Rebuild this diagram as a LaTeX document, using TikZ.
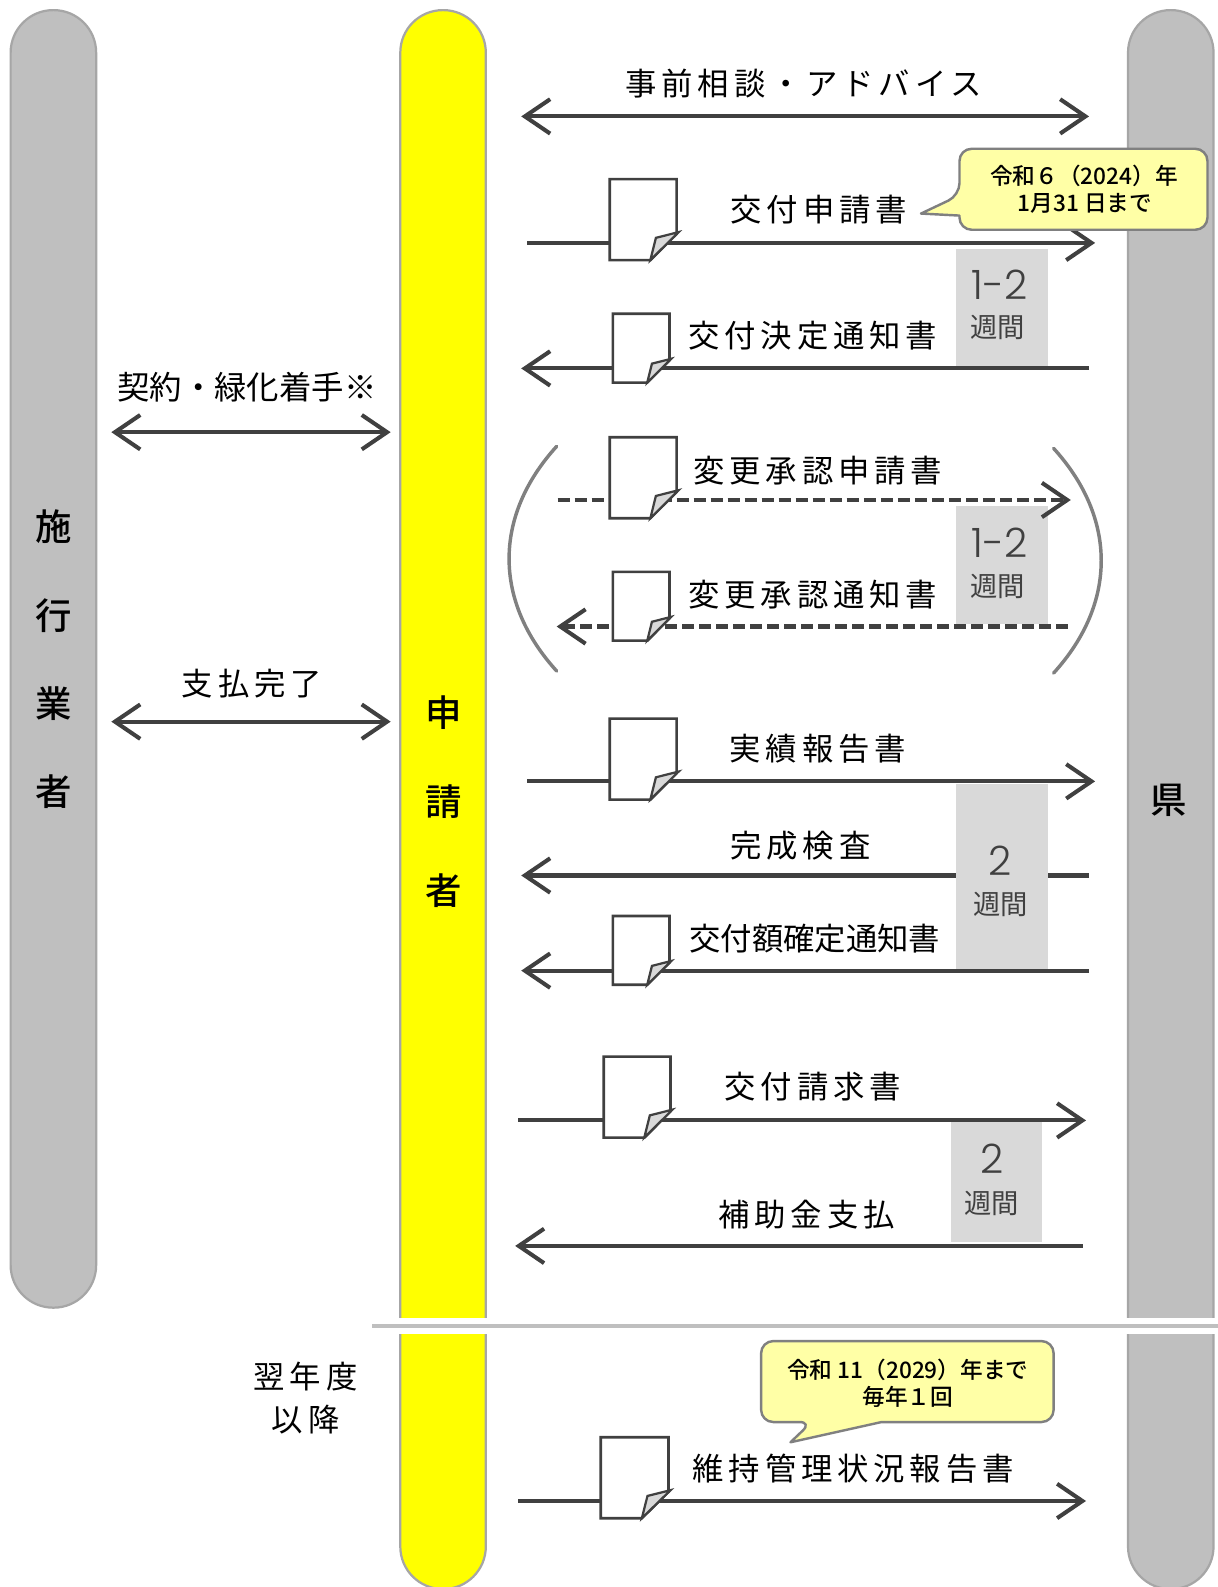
\documentclass[tikz,border=0pt]{standalone}
\usepackage{fontspec}
\usetikzlibrary{arrows.meta}
\setmainfont{Noto Sans CJK JP}
\newfontfamily\jp{Noto Sans CJK JP}
\newfontfamily\jpls{Noto Sans CJK JP}[LetterSpace=15.5]
\newfontfamily\jpbold{Noto Sans CJK JP Medium}
\newfontfamily\numf{Poppins Light}
\definecolor{pillgray}{HTML}{BFBFBF}
\definecolor{pillline}{HTML}{A6A6A6}
\definecolor{ink}{HTML}{404040}
\definecolor{boxgray}{HTML}{D9D9D9}
\definecolor{callfill}{HTML}{FFFFA6}
\definecolor{laneyellow}{HTML}{FFFF00}
\tikzset{
 pill/.style={draw=pillline,line width=1.1pt,rounded corners=21pt},
 flow/.style={draw=ink,line width=2pt},
 solidr/.style={flow,-{Straight Barb[length=12.5pt,width=17pt,line width=2pt]}},
 solidb/.style={flow,{Straight Barb[length=12.5pt,width=17pt,line width=2pt]}-{Straight Barb[length=12.5pt,width=17pt,line width=2pt]}},
 dashr/.style={solidr,line width=2.1pt,dash pattern=on 6pt off 2.4pt},
 span/.style={fill=boxgray,draw=none},
 lbl/.style={inner sep=0pt,font=\jpls\fontsize{15.5}{18}\selectfont,text=black},
 tight/.style={inner sep=0pt,font=\jp\fontsize{15.5}{18}\selectfont,text=black},
 tightw/.style={inner sep=0pt,font=\jp\fontsize{16}{18}\selectfont,text=black},
 num/.style={inner sep=0pt,font=\numf\fontsize{20}{22}\selectfont,text=ink},
 wk/.style={inner sep=0pt,font=\jp\fontsize{13.5}{16}\selectfont,text=ink},
 vert/.style={inner sep=0pt,font=\jpbold\fontsize{18}{20}\selectfont,text=black},
 calltext/.style={inner sep=0pt,font=\jpbold\fontsize{11.2}{13}\selectfont,text=black},
 call/.style={draw=gray,line width=1.2pt,fill=callfill,rounded corners=6pt,line join=round},
 brk/.style={draw=gray,line width=1.7pt,line cap=round},
}
\newcommand{\docpage}[5]{%
 \begin{scope}[shift={(#2,#3)},x=#4*0.5pt,y=-#5*0.5pt]
  \coordinate (#1) at (0.5,0.5);
  \draw[draw=ink,line width=1.3pt,fill=white,line join=miter] (0,0)--(1,0)--(1,0.675)--(0.607,1)--(0,1)--cycle;
  \draw[draw=ink,line width=1.1pt,fill=boxgray,line join=miter] (0.607,1)--(0.69,0.725)--(1.03,0.654)--cycle;
 \end{scope}}
\begin{document}
\begin{tikzpicture}[x=0.5pt,y=-0.5pt]
\useasboundingbox (0,0) rectangle (1203,1568);
\fill[white] (0,0) rectangle (1203,1568);
% lanes
\draw[pill,fill=pillgray] (10.5,10) rectangle (95,1292);
\draw[pill,fill=laneyellow] (395.5,10) rectangle (480,1570);
\draw[pill,fill=pillgray] (1114.5,10) rectangle (1199,1570);
\fill[white] (368,1302) rectangle (1203,1318);
\coordinate (bandL) at (368,1310);
\coordinate (bandR) at (1203,1310);
\draw[pillgray,line width=2pt] (bandL) -- (bandR);
% lane labels
\node[vert] (l1) at (53,520) {施};
\node[vert] (l2) at (53,608) {行};
\node[vert] (l3) at (53,695) {業};
\node[vert] (l4) at (53,782) {者};
\node[vert] (m1) at (438,704) {申};
\node[vert] (m2) at (438,792) {請};
\node[vert] (m3) at (438,880) {者};
\node[vert] (r1) at (1155,791) {県};
% arrow under grey box
\coordinate (k1) at (1076,865); \coordinate (k2) at (515,865);
\draw[solidr] (k1) -- (k2);
% grey duration boxes
\fill[span] (944.5,246) rectangle (1035,362);
\fill[span] (944.5,500) rectangle (1035,617);
\fill[span] (944.5,775) rectangle (1035,958);
\fill[span] (939.5,1108) rectangle (1030,1227);
% arrows
\coordinate (a1) at (515,115); \coordinate (a2) at (1076,115);
\draw[solidb] (a1) -- (a2);
\coordinate (b1) at (110,427); \coordinate (b2) at (386,427);
\draw[solidb] (b1) -- (b2);
\coordinate (c1) at (110,713); \coordinate (c2) at (386,713);
\draw[solidb] (c1) -- (c2);
\coordinate (d1) at (521,240); \coordinate (d2) at (1082,240);
\draw[solidr] (d1) -- (d2);
\coordinate (e1) at (1076,364); \coordinate (e2) at (515,364);
\draw[solidr] (e1) -- (e2);
\coordinate (f1) at (551,494); \coordinate (f2) at (1058,494);
\draw[dashr] (f1) -- (f2);
\coordinate (g1) at (1055,619); \coordinate (g2) at (550,619);
\draw[dashr] (g1) -- (g2);
\coordinate (h1) at (521,772); \coordinate (h2) at (1082,772);
\draw[solidr] (h1) -- (h2);
\coordinate (i1) at (1076,959); \coordinate (i2) at (515,959);
\draw[solidr] (i1) -- (i2);
\coordinate (j1) at (512,1107); \coordinate (j2) at (1073,1107);
\draw[solidr] (j1) -- (j2);
\coordinate (n1) at (1070,1231); \coordinate (n2) at (509,1231);
\draw[solidr] (n1) -- (n2);
\coordinate (o1) at (512,1483); \coordinate (o2) at (1073,1483);
\draw[solidr] (o1) -- (o2);
% brackets
\draw[brk] (550,441) .. controls (487.3,510) and (487.3,594) .. (550,663);
\draw[brk] (1041,443) .. controls (1103.7,512) and (1103.7,596) .. (1041,665);
% documents
\docpage{d-a}{602.5}{177}{66}{80}
\docpage{d-b}{605.5}{310}{56}{68}
\docpage{d-c}{602.5}{432}{66}{80}
\docpage{d-d}{605.5}{565}{56}{68}
\docpage{d-e}{602.5}{710}{66}{80}
\docpage{d-f}{605.5}{905}{56}{68}
\docpage{d-g}{596.5}{1044}{66}{80}
\docpage{d-h}{593.5}{1420}{67}{80}
% labels
\node[lbl] (t1) at (794,83) {事前相談・アドバイス};
\node[lbl] (t2) at (809,207) {交付申請書};
\node[lbl] (t3) at (803,332) {交付決定通知書};
\node[lbl] (t4) at (808,465) {変更承認申請書};
\node[lbl] (t5) at (803,587) {変更承認通知書};
\node[lbl] (t6) at (808,740) {実績報告書};
\node[lbl] (t7) at (791,836) {完成検査};
\node[tight] (t8) at (805,927) {交付額確定通知書};
\node[lbl] (t9) at (803,1074) {交付請求書};
\node[lbl] (t10) at (797,1200) {補助金支払};
\node[lbl] (t11) at (843,1451) {維持管理状況報告書};
\node[tightw] (t12) at (244,383) {契約・緑化着手※};
\node[lbl] (t13) at (249,675) {支払完了};
\node[lbl] (t14) at (302,1360) {翌年度};
\node[lbl] (t15) at (302,1403) {以降};
% durations
\node[num] (w1) at (988,281) {1-2};
\node[wk] (w2) at (986,324) {週間};
\node[num] (w3) at (988,536) {1-2};
\node[wk] (w4) at (986,579) {週間};
\node[num] (w5) at (988,850) {2};
\node[wk] (w6) at (989,894) {週間};
\node[num] (w7) at (980,1145) {2};
\node[wk] (w8) at (980,1189) {週間};
% callouts
\draw[call] (948,193) [sharp corners] -- (910,211) -- (948,213) [rounded corners=6pt] -- (948,227) -- (1193,227) -- (1193,147) -- (948,147) -- cycle;
\node[calltext] (c1a) at (1071,174) {令和６（2024）年};
\node[calltext] (c1b) at (1072,201) {1月31 日まで};
\draw[call] (802,1405) [sharp corners] -- (781,1425) -- (871,1405) [rounded corners=6pt] -- (1041,1405) -- (1041,1325) -- (752,1325) -- (752,1405) -- cycle;
\node[calltext] (c2a) at (897,1353) {令和 11（2029）年まで};
\node[calltext] (c2b) at (897,1380) {毎年１回};
\end{tikzpicture}
\end{document}
